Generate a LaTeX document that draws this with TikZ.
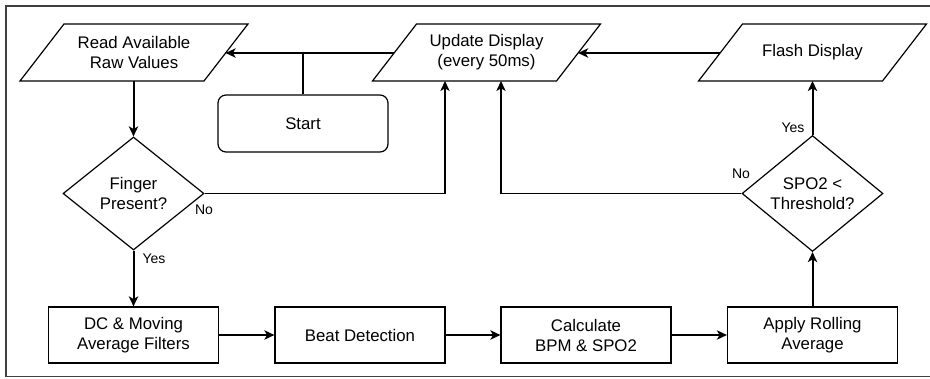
\documentclass[tikz,border=0pt]{standalone}
\usepackage{fontspec}
\setmainfont{Liberation Sans}
\usetikzlibrary{shapes.geometric,arrows.meta}
\newcommand\paral[4]{%
  \draw[shp] (#2-70,#3-28.5) -- (#2+114,#3-28.5) -- (#2+70,#3+28.5) -- (#2-114,#3+28.5) -- cycle;
  \node[txt] (#1) at (#2,#3) {#4};}
\begin{document}
\begin{tikzpicture}[x=0.75pt,y=-0.75pt,
  txt/.style={align=center,font=\fontsize{12.6}{15}\selectfont,inner sep=0pt},
  shp/.style={draw,line width=0.9pt},
  proc/.style={draw,line width=0.9pt,minimum width=127.5pt,minimum height=42pt,inner sep=0pt,align=center,font=\fontsize{12.6}{15}\selectfont},
  term/.style={proc,rounded corners=6pt,minimum height=42.75pt},
  dec/.style={draw,line width=0.9pt,diamond,minimum width=105.75pt,minimum height=84.75pt,inner sep=0pt,align=center,font=\fontsize{12.6}{15}\selectfont},
  flow/.style={line width=1.5pt,-{Stealth[length=7.5pt,width=7pt,inset=2pt]}},
  thinflow/.style={line width=0.9pt,-{Stealth[length=7.5pt,width=7pt,inset=2pt]}},
  thinline/.style={line width=0.9pt},
  frame/.style={line width=1pt,draw=black!75},
  lbl/.style={font=\fontsize{10.5}{12}\selectfont,inner sep=0pt}
]
\useasboundingbox (0,0) rectangle (930,378);
\draw[frame] (932,6) -- (6,6) -- (6,376.5) -- (932,376.5);

% parallelograms
\paral{read}{134}{52.5}{Read Available\\Raw Values}
\paral{update}{486.5}{52.5}{Update Display\\(every 50ms)}
\paral{flash}{812.5}{52.5}{Flash Display}
\coordinate (read-e) at (225.6,53);
\coordinate (read-s) at (133.5,81);
\coordinate (upd-w) at (394.1,53);
\coordinate (upd-e) at (578.1,53);
\coordinate (upd-s1) at (445,81);
\coordinate (upd-s2) at (501,81);
\coordinate (flash-w) at (720.1,53);
\coordinate (flash-s) at (812.5,81);
\coordinate (startjoin) at (303,53);

% nodes
\node[term] (start) at (303,123.5) {Start};
\node[dec] (finger) at (133.5,193.5) {Finger\\Present?};
\node[dec] (spo) at (812.5,193.5) {SPO2 \textless\\Threshold?};
\node[proc] (dc) at (133.5,335) {DC \& Moving\\Average Filters};
\node[proc] (beat) at (360,335) {Beat Detection};
\node[proc] (calc) at (586,335) {Calculate\\BPM \& SPO2};
\node[proc] (apply) at (812.5,335) {Apply Rolling\\Average};

% connectors
\draw[flow] (upd-w) -- (read-e);
\draw[thinline] (start.north) -- (startjoin);
\draw[flow] (flash-w) -- (upd-e);
\draw[flow] (read-s) -- (finger.north);
\draw[thinflow] (finger.east) -| (upd-s1);
\draw[flow] (finger.south) -- (dc.north);
\draw[flow] (dc.east) -- (beat.west);
\draw[flow] (beat.east) -- (calc.west);
\draw[flow] (calc.east) -- (apply.west);
\draw[flow] (apply.north) -- (spo.south);
\draw[flow] (spo.north) -- (flash-s);
\draw[thinflow] (spo.west) -| (upd-s2);

% labels
\node[lbl] (no1) at (204,210) {No};
\node[lbl] (yes1) at (154,259) {Yes};
\node[lbl] (yes2) at (793,128) {Yes};
\node[lbl] (no2) at (741,174) {No};
\end{tikzpicture}
\end{document}
